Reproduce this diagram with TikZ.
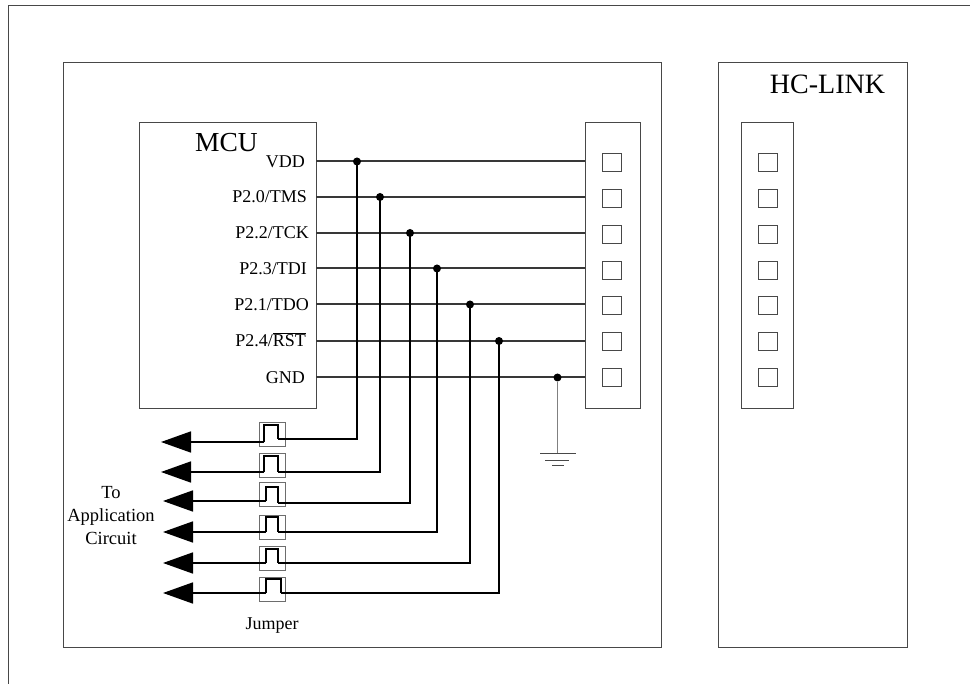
\documentclass[tikz,border=0pt]{standalone}
\usepackage{fontspec}
\setmainfont{Liberation Serif}
\usetikzlibrary{arrows.meta}
\definecolor{boxline}{HTML}{484848}
\definecolor{wirecol}{HTML}{383838}
\tikzset{
  x=1pt,y=-1pt,
  panel/.style={draw=boxline,line width=0.9pt,fill=white,inner sep=0pt,outer sep=0pt,minimum width=#1},
  pin/.style={draw=boxline,line width=0.9pt,fill=white,inner sep=0pt,outer sep=0pt,minimum width=19pt,minimum height=18pt},
  jumperbox/.style={draw=boxline!80,line width=0.8pt,inner sep=0pt,outer sep=0pt,minimum width=26pt,minimum height=24pt},
  lbl/.style={font=\fontsize{18}{20}\selectfont,inner sep=0pt,anchor=base east},
  wire/.style={draw=wirecol,line width=2pt},
  drop/.style={draw=black,line width=1.7pt},
  pulse/.style={draw=black,line width=1.7pt},
  dot/.style={circle,fill=black,inner sep=0pt,minimum size=8pt},
  outarrow/.style={draw=black,line width=1.7pt,-{Triangle[length=30pt,width=21pt]}},
  gnd/.style={draw=boxline,line width=0.9pt}
}
\begin{document}
\begin{tikzpicture}
\useasboundingbox (0,0) rectangle (970,684);
% outer frame
\coordinate (fa) at (8.5,684); \coordinate (fb) at (8.5,5); \coordinate (fc) at (970,5);
\draw[boxline,line width=0.9pt] (fa) -- (fb) -- (fc);
% panels
\node[panel=598pt,minimum height=585pt] (main) at (362,354.5) {};
\node[panel=189pt,minimum height=585pt] (hc) at (812.5,354.5) {};
\node[panel=177pt,minimum height=286pt] (mcu) at (227.5,265) {};
\node[panel=55pt,minimum height=286pt] (conn) at (612.5,265) {};
\node[panel=52pt,minimum height=286pt] (hconn) at (767,265) {};
\node[font=\fontsize{27.5}{30}\selectfont,inner sep=0pt,anchor=base] (mcut) at (226.5,152) {MCU};
\node[font=\fontsize{28}{30}\selectfont,inner sep=0pt,anchor=base] (hct) at (827.5,94) {HC-LINK};
% pin squares
\foreach \i/\y in {1/162,2/198,3/234,4/270,5/305,6/341,7/377}{
  \node[pin] (p\i) at (612,\y) {};
  \node[pin] (h\i) at (768,\y) {};
}
% signal wires
\foreach \i/\y/\t/\tx/\dx in {1/161.5/{VDD}/305/357,2/197/{P2.0/TMS}/307/380,3/233/{P2.2/TCK}/309/410,4/268.5/{P2.3/TDI}/307/437,5/304.5/{P2.1/TDO}/309/470,6/341/{P2.4/$\overline{\mbox{RST}}$}/306/499,7/377.5/{GND}/305/557.5}{
  \coordinate (a\i) at (316,\y);
  \coordinate (b\i) at (585,\y);
  \draw[wire] (a\i) -- (b\i);
  \node[dot] (d\i) at (\dx,\y) {};
  \node[lbl] (t\i) at (\tx,\y+6) {\t};
}
% jumpers: row / box y / right y / left y / pulse left / pulse right / pulse top / arrow tip
\foreach \i/\jy/\ry/\ly/\pl/\pr/\pt/\tip in {
  1/434/439/442/264/278/425/161,
  2/465/472/472/264/278/456/161,
  3/494/503/501/266/278/487/163,
  4/527/532/532/266/278/517/163,
  5/558/563/563/266/278/549/163,
  6/589/593/593/266/281/579/163}{
  \node[jumperbox] (j\i) at (272,\jy) {};
  \coordinate (c\i) at (\pr,\ry);
  \coordinate (e\i) at (\pl,\ly);
  \coordinate (tipc\i) at (\tip,\ly);
  \coordinate (q\i) at (\pl,\pt);
  \coordinate (r\i) at (\pr,\pt);
  \draw[drop] (d\i.center) |- (c\i);
  \draw[pulse] (c\i) -- (r\i) -- (q\i) -- (e\i);
  \draw[outarrow] (e\i) -- (tipc\i);
}
% ground
\coordinate (g0) at (557.5,453);
\coordinate (g1l) at (540,453); \coordinate (g1r) at (576,453);
\coordinate (g2l) at (545,460); \coordinate (g2r) at (569,460);
\coordinate (g3l) at (552,465); \coordinate (g3r) at (564,465);
\draw[draw=gray,line width=1.2pt] (d7.south) -- (g0);
\draw[gnd] (g1l) -- (g1r);
\draw[gnd] (g2l) -- (g2r);
\draw[gnd] (g3l) -- (g3r);
% labels
\node[font=\fontsize{18.5}{23}\selectfont,align=center,inner sep=0pt,anchor=base] (app) at (111,544) {To\\Application\\Circuit};
\node[font=\fontsize{18}{20}\selectfont,inner sep=0pt,anchor=base] (jl) at (272,629) {Jumper};
\end{tikzpicture}
\end{document}
